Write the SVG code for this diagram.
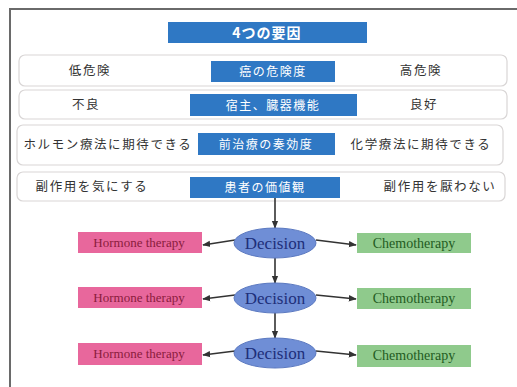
<svg xmlns="http://www.w3.org/2000/svg" width="517" height="387" viewBox="0 0 517 387">
<defs>
<style>
.row{fill:#fff;stroke:#d9d6d6;stroke-width:1.2}
.hdr{fill:#2f78c4}
.ht{font-family:"Noto Sans CJK JP","Noto Sans",sans-serif;font-size:12px;fill:#fff;text-anchor:middle;letter-spacing:1.5px}
.st{font-family:"Noto Sans CJK JP","Noto Sans",sans-serif;font-size:12.5px;fill:#333;text-anchor:middle;letter-spacing:1.6px}
.hb{fill:#e8679c}
.cb{fill:#8fca8c}
.dec{fill:#6f8ed6;stroke:#5a78c0;stroke-width:1}
.dt{font-family:"Liberation Serif",serif;font-size:17px;fill:#1e2f7a;text-anchor:middle}
.hbt{font-family:"Liberation Serif",serif;font-size:13px;fill:#8a1c3c;text-anchor:middle}
.cbt{font-family:"Liberation Serif",serif;font-size:14px;fill:#1f5b22;text-anchor:middle}
.ln{stroke:#333;stroke-width:1.6;fill:none}
</style>
<marker id="ah" viewBox="0 0 10 10" refX="9" refY="5" markerWidth="5" markerHeight="5" orient="auto"><path d="M0,1 L10,5 L0,9 Z" fill="#333"/></marker>
</defs>
<rect width="517" height="387" fill="#fff"/>
<path d="M10,387 V9 H517" fill="none" stroke="#6a6a6a" stroke-width="2"/>

<g id="title">
<rect class="hdr" x="168" y="22" width="199" height="21"/>
<text class="ht" x="267" y="38" style="font-weight:bold;font-size:14px;letter-spacing:1px">4つの要因</text>
</g>

<g id="row1">
<rect class="row" x="19" y="55" width="488" height="31" rx="6"/>
<rect class="hdr" x="211" y="61" width="124" height="21"/>
<text class="ht" x="273" y="76">癌の危険度</text>
<text class="st" x="90" y="75">低危険</text>
<text class="st" x="421" y="75">高危険</text>
</g>

<g id="row2">
<rect class="row" x="19" y="90" width="488" height="29" rx="6"/>
<rect class="hdr" x="190" y="94" width="167" height="22"/>
<text class="ht" x="273" y="110">宿主、臓器機能</text>
<text class="st" x="86" y="109">不良</text>
<text class="st" x="424" y="109">良好</text>
</g>

<g id="row3">
<rect class="row" x="17" y="125" width="486" height="40" rx="6"/>
<rect class="hdr" x="198" y="133" width="137" height="22"/>
<text class="ht" x="266" y="149">前治療の奏効度</text>
<text class="st" x="108" y="149">ホルモン療法に期待できる</text>
<text class="st" x="421" y="149">化学療法に期待できる</text>
</g>

<g id="row4">
<rect class="row" x="17" y="172" width="488" height="29" rx="6"/>
<rect class="hdr" x="190" y="177" width="150" height="21"/>
<text class="ht" x="265" y="192">患者の価値観</text>
<text class="st" x="92" y="191">副作用を気にする</text>
<text class="st" x="440" y="191">副作用を厭わない</text>
</g>

<g id="connectors">
<path class="ln" d="M275,198 V228" marker-end="url(#ah)"/>
<path class="ln" d="M235,240 L203,245" marker-end="url(#ah)"/>
<path class="ln" d="M316,240 L356,245" marker-end="url(#ah)"/>
<path class="ln" d="M275,258 V283" marker-end="url(#ah)"/>
<path class="ln" d="M235,295 L203,299" marker-end="url(#ah)"/>
<path class="ln" d="M316,295 L356,299" marker-end="url(#ah)"/>
<path class="ln" d="M275,313 V338" marker-end="url(#ah)"/>
<path class="ln" d="M235,351 L203,355" marker-end="url(#ah)"/>
<path class="ln" d="M316,351 L356,355" marker-end="url(#ah)"/>
</g>

<g id="decision1">
<ellipse class="dec" cx="275" cy="243" rx="41" ry="15"/>
<text class="dt" x="275" y="249">Decision</text>
</g>
<g id="hormone1">
<rect class="hb" x="78" y="232" width="124" height="21"/>
<text class="hbt" x="139" y="247">Hormone therapy</text>
</g>
<g id="chemo1">
<rect class="cb" x="357" y="233" width="114" height="20"/>
<text class="cbt" x="414" y="248">Chemotherapy</text>
</g>

<g id="decision2">
<ellipse class="dec" cx="275" cy="298" rx="41" ry="15"/>
<text class="dt" x="275" y="304">Decision</text>
</g>
<g id="hormone2">
<rect class="hb" x="78" y="287" width="124" height="21"/>
<text class="hbt" x="139" y="302">Hormone therapy</text>
</g>
<g id="chemo2">
<rect class="cb" x="357" y="288" width="114" height="21"/>
<text class="cbt" x="414" y="303">Chemotherapy</text>
</g>

<g id="decision3">
<ellipse class="dec" cx="275" cy="353" rx="41" ry="15"/>
<text class="dt" x="275" y="359">Decision</text>
</g>
<g id="hormone3">
<rect class="hb" x="78" y="343" width="124" height="22"/>
<text class="hbt" x="139" y="358">Hormone therapy</text>
</g>
<g id="chemo3">
<rect class="cb" x="357" y="345" width="114" height="22"/>
<text class="cbt" x="414" y="360">Chemotherapy</text>
</g>
</svg>
